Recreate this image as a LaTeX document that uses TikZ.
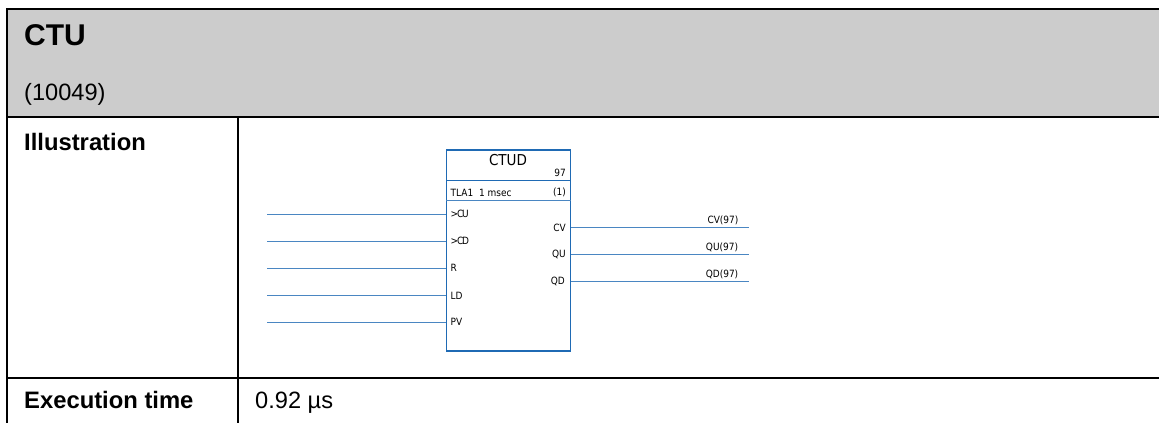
\documentclass[tikz,border=0pt]{standalone}
\usepackage{fontspec}
\setmainfont{Liberation Sans}
\newfontfamily\boxfont{DejaVu Sans Condensed}
\definecolor{hdr}{HTML}{CCCCCC}
\definecolor{fbblue}{HTML}{1F6AB4}
\definecolor{wire}{HTML}{4A86C2}
\tikzset{
  rule/.style={draw=black,line width=2pt},
  wireline/.style={draw=wire,line width=1pt},
  title/.style={anchor=base west,inner sep=0pt,font=\fontsize{30}{30}\selectfont\bfseries},
  headtxt/.style={anchor=base west,inner sep=0pt,font=\fontsize{23.8}{24}\selectfont\bfseries},
  bodytxt/.style={anchor=base west,inner sep=0pt,font=\fontsize{23.6}{24}\selectfont},
  pinl/.style={anchor=west,inner sep=0pt,font=\boxfont\fontsize{10}{10}\selectfont},
  pinr/.style={anchor=east,inner sep=0pt,font=\boxfont\fontsize{10}{10}\selectfont},
  sig/.style={anchor=center,inner sep=0pt,font=\boxfont\fontsize{10}{10}\selectfont}
}
\begin{document}
\begin{tikzpicture}[x=1pt,y=-1pt]
\useasboundingbox (0,0) rectangle (1159,423);
% header
\fill[hdr] (7,9) rectangle (1159,117);
\draw[rule] (1159,9) -- (7,9) -- (7,423);
\draw[rule] (7,117) -- (1159,117);
\draw[rule] (238,117) -- (238,423);
\draw[rule] (7,377.5) -- (1159,377.5);
\node[title] (ttl) at (24,45) {CTU};
\node[bodytxt] (num) at (24,100) {(10049)};
\node[headtxt] (ill) at (24,150) {Illustration};
\node[headtxt] (ext) at (24,408) {Execution time};
\node[bodytxt] (val) at (255,408) {0.92 µs};
% block
\node[draw=fbblue,line width=1.5pt,minimum width=124.3pt,minimum height=201pt,inner sep=0pt,outer sep=0pt,anchor=north west] (fb) at (446.3,150) {};
\draw[draw=fbblue,line width=1pt] (446.3,180) -- (570.6,180);
\draw[draw=wire,line width=1pt] (446.3,200) -- (570.6,200);
\node[anchor=center,inner sep=0pt,font=\boxfont\fontsize{15}{15}\selectfont] (nm) at (508,160) {CTUD};
\node[pinr] (n97) at (566,173) {97};
\node[pinl] (tla) at (450.5,192.5) {TLA1\hspace{3pt} 1 msec};
\node[pinr] (one) at (566,192.5) {(1)};
% input pins
\coordinate (a1) at (446.3,214);
\coordinate (a2) at (446.3,241);
\coordinate (a3) at (446.3,268);
\coordinate (a4) at (446.3,295);
\coordinate (a5) at (446.3,322);
\coordinate (i1) at (267,214);
\coordinate (i2) at (267,241);
\coordinate (i3) at (267,268);
\coordinate (i4) at (267,295);
\coordinate (i5) at (267,322);
\foreach \k in {1,...,5} \draw[wireline] (i\k) -- (a\k);
\node[pinl] (cu) at (450.5,213.5) {>\kern-1pt C\kern-1.5pt U};
\node[pinl] (cd) at (450.5,240.5) {>\kern-1pt C\kern-1.5pt D};
\node[pinl] (r) at (450.5,268) {R};
\node[pinl] (ld) at (450.5,295.5) {LD};
\node[pinl] (pv) at (450.5,322) {PV};
% outputs
\coordinate (b1) at (570.6,227);
\coordinate (b2) at (570.6,254);
\coordinate (b3) at (570.6,281);
\coordinate (o1) at (749,227);
\coordinate (o2) at (749,254);
\coordinate (o3) at (749,281);
\foreach \k in {1,2,3} \draw[wireline] (b\k) -- (o\k);
\node[pinr] (cv) at (566,227.5) {CV};
\node[pinr] (qu) at (566,254.5) {QU};
\node[pinr] (qd) at (565,281.5) {QD};
\node[sig] (s1) at (723,220.5) {CV(97)};
\node[sig] (s2) at (722,247.5) {QU(97)};
\node[sig] (s3) at (722,274.5) {QD(97)};
\end{tikzpicture}
\end{document}
